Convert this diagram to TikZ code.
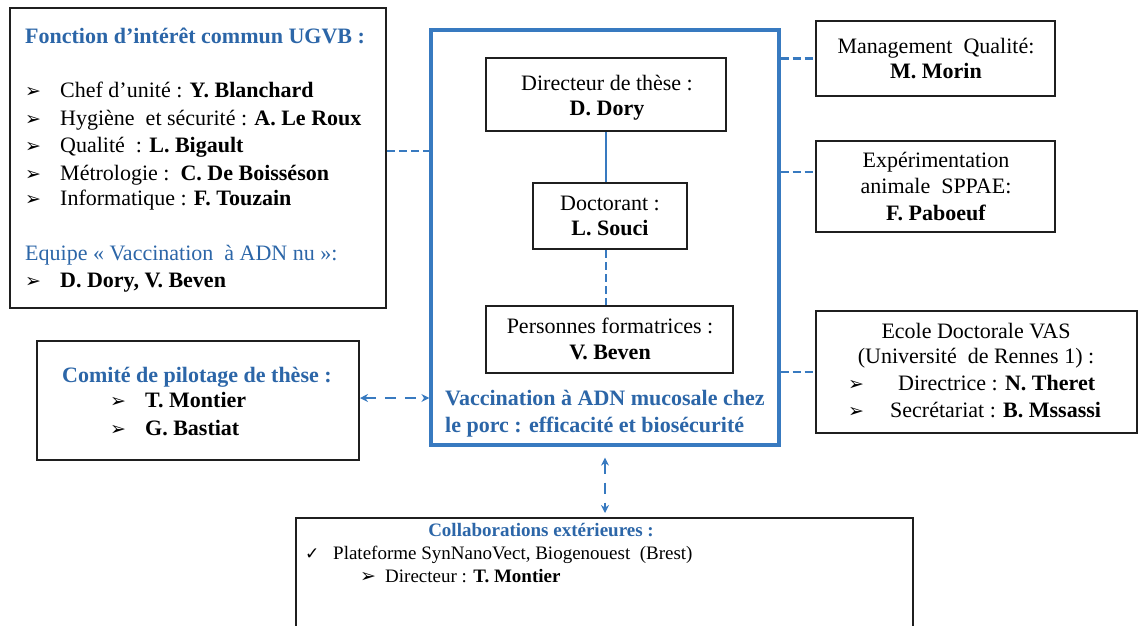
\documentclass[tikz,border=0pt]{standalone}
\usepackage{fontspec}
\setmainfont{Liberation Serif}
\newfontfamily\symf{DejaVu Sans}
\usetikzlibrary{arrows.meta}
\definecolor{tblue}{RGB}{44,102,168}
\definecolor{lblue}{RGB}{56,122,192}
\newcommand{\bul}{{\symf\fontsize{19}{19}\selectfont ➢}}
\newcommand{\chk}{{\symf\fontsize{17}{17}\selectfont ✓}}
\begin{document}
\begin{tikzpicture}[x=1pt,y=-1pt,
  box/.style={draw=black!88, line width=2pt, fill=white, inner sep=0pt},
  bluebox/.style={draw=lblue, line width=3.2pt, fill=white, inner sep=0pt},
  txt/.style={inner sep=0pt, font=\fontsize{22}{26}\selectfont},
  btxt/.style={txt, text=tblue, font=\fontsize{22}{26}\selectfont\bfseries},
  stxt/.style={inner sep=0pt, font=\fontsize{19}{23}\selectfont},
  dline/.style={draw=lblue, line width=2.6pt, dash pattern=on 8pt off 4pt},
  sline/.style={draw=lblue, line width=2.6pt},
  aline/.style={draw=lblue, line width=2.4pt, dash pattern=on 11pt off 9pt,
    {Stealth[length=8pt,width=8pt]}-{Stealth[length=8pt,width=8pt]}}
]
\useasboundingbox (0,0) rectangle (1138,625);

% boxes
\node[box, minimum width=376pt, minimum height=300pt] (lbox) at (198,158) {};
\node[bluebox, minimum width=348pt, minimum height=415pt] (blue) at (605,237.5) {};
\node[box, minimum width=240pt, minimum height=73pt] (dir) at (606,94.5) {};
\node[box, minimum width=154pt, minimum height=66pt] (doc) at (610,216) {};
\node[box, minimum width=247pt, minimum height=67pt] (pers) at (609.5,339.5) {};
\node[box, minimum width=239pt, minimum height=75pt] (mgmt) at (935.5,58.5) {};
\node[box, minimum width=239pt, minimum height=91pt] (exp) at (935.5,186.5) {};
\node[box, minimum width=321pt, minimum height=122pt] (ecole) at (976,372) {};
\node[box, minimum width=322pt, minimum height=119pt] (comite) at (198,400.5) {};
\node[box, minimum width=617pt, minimum height=124pt] (collab) at (604.5,580) {};

% connectors
\draw[dline] ([yshift=7pt]lbox.east) -- ([yshift=7pt]lbox.east -| blue.west);
\draw[dline] (blue.east |- mgmt.west) -- (mgmt.west);
\draw[dline] (blue.east |- exp.west) ++(0,-14.5) -- ([yshift=14.5pt]exp.west);
\draw[dline] (blue.east |- ecole.west) -- (ecole.west);
\draw[sline] (dir.south) -- (dir.south |- doc.north);
\draw[dline] (doc.south -| dir.south) -- (pers.north -| dir.south);
\draw[aline] ([yshift=2.5pt]comite.east) -- ([yshift=2.5pt]comite.east -| blue.west);
\draw[aline] ([yshift=-11pt]blue.south) -- ([yshift=4pt]collab.north -| blue.south);

% left box text
\node[btxt, anchor=base west] (t1) at (25,43) {Fonction d’intérêt commun UGVB :};
\node[txt, anchor=base west] (t2) at (25,97) {\makebox[35pt][l]{\bul}Chef d’unité : \textbf{Y. Blanchard}};
\node[txt, anchor=base west] (t3) at (25,125) {\makebox[35pt][l]{\bul}Hygiène\ \ et sécurité : \textbf{A. Le Roux}};
\node[txt, anchor=base west] (t4) at (25,152) {\makebox[35pt][l]{\bul}Qualité\ \ : \textbf{L. Bigault}};
\node[txt, anchor=base west] (t5) at (25,180) {\makebox[35pt][l]{\bul}Métrologie :\ \ \textbf{C. De Boisséson}};
\node[txt, anchor=base west] (t6) at (25,205) {\makebox[35pt][l]{\bul}Informatique : \textbf{F. Touzain}};
\node[txt, anchor=base west, text=tblue] (t7) at (25,260) {Equipe « Vaccination\ \ à ADN nu »:};
\node[txt, anchor=base west] (t8) at (25,287) {\makebox[35pt][l]{\bul}\textbf{D. Dory, V. Beven}};

% central boxes text
\node[txt, anchor=base] (d1) at (607,90) {Directeur de thèse :};
\node[txt, anchor=base] (d2) at (607,115) {\textbf{D. Dory}};
\node[txt, anchor=base] (c1) at (610,210) {Doctorant :};
\node[txt, anchor=base] (c2) at (610,235) {\textbf{L. Souci}};
\node[txt, anchor=base] (p1) at (610,333) {Personnes formatrices :};
\node[txt, anchor=base] (p2) at (610,359) {\textbf{V. Beven}};
\node[btxt, anchor=base west] (v1) at (445,405) {Vaccination à ADN mucosale chez};
\node[btxt, anchor=base west] (v2) at (445,432) {le porc : efficacité et biosécurité};

% right boxes text
\node[txt, anchor=base] (m1) at (936,53) {Management\ \ Qualité:};
\node[txt, anchor=base] (m2) at (936,78) {\textbf{M. Morin}};
\node[txt, anchor=base] (e1) at (936,167) {Expérimentation};
\node[txt, anchor=base] (e2) at (936,193) {animale\ \ SPPAE:};
\node[txt, anchor=base] (e3) at (936,220) {\textbf{F. Paboeuf}};
\node[txt, anchor=base] (s1) at (976,338) {Ecole Doctorale VAS};
\node[txt, anchor=base] (s2) at (976,363) {(Université\ \ de Rennes 1) :};
\node[txt, anchor=base west] (s3) at (848,390) {\makebox[50pt][l]{\bul}Directrice : \textbf{N. Theret}};
\node[txt, anchor=base west] (s4) at (848,417) {\makebox[42pt][l]{\bul}Secrétariat : \textbf{B. Mssassi}};

% comite text
\node[btxt, anchor=base west] (k1) at (62,382) {Comité de pilotage de thèse :};
\node[txt, anchor=base west] (k2) at (110,407) {\makebox[35pt][l]{\bul}\textbf{T. Montier}};
\node[txt, anchor=base west] (k3) at (110,435) {\makebox[35pt][l]{\bul}\textbf{G. Bastiat}};

% collaborations text
\node[stxt, anchor=base, text=tblue, font=\fontsize{19}{23}\selectfont\bfseries] (o1) at (541,536) {Collaborations extérieures :};
\node[stxt, anchor=base west] (o2) at (305,559) {\makebox[28pt][l]{\chk}Plateforme SynNanoVect, Biogenouest\ \ (Brest)};
\node[stxt, anchor=base west] (o3) at (360,582) {\makebox[25pt][l]{\bul}Directeur : \textbf{T. Montier}};
\end{tikzpicture}
\end{document}
